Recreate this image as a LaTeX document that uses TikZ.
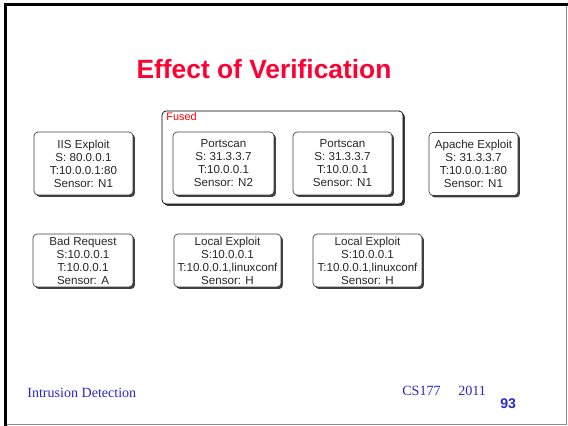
\documentclass[tikz,border=0pt]{standalone}
\usepackage{fontspec}
\setmainfont{Liberation Sans}
\newfontfamily\footfont{Liberation Serif}
\usetikzlibrary{shadows}
\definecolor{titlered}{RGB}{255,0,51}
\definecolor{footblue}{RGB}{40,40,200}
\tikzset{
  alert/.style={
    draw=black!75,
    fill=white,
    rounded corners=0.08cm,
    drop shadow={shadow xshift=0.04cm, shadow yshift=-0.04cm, fill=black!75, opacity=1},
    align=center,
    inner sep=0pt,
    text=black!85,
    font=\fontsize{6.6}{7.4}\selectfont
  },
  fusedbox/.style={
    alert,
    draw=black,
    minimum width=4.82cm,
    minimum height=1.86cm
  },
  tallalert/.style={
    alert,
    minimum height=1.26cm
  },
  flatalert/.style={
    alert,
    minimum height=1.06cm
  }
}

\begin{document}
\begin{tikzpicture}[x=0.02cm,y=-0.02cm]
  \useasboundingbox (0,0) rectangle (568,426);
  % slide frame
  \draw[black!45, line width=0.5pt] (566.5,4) -- (566.5,424.5) -- (6,424.5);
  \draw[black, line width=0.06cm] (5.5,426) -- (5.5,4.5) -- (568,4.5);

  \node[text=titlered, font=\fontsize{15}{18}\bfseries\selectfont, anchor=base] (title) at (264,78) {Effect of Verification};

  % fused pair
  \node[fusedbox] (fused) at (282.5,157.5) {};
  \node[text=red, font=\fontsize{6.2}{7}\selectfont, anchor=base west, inner sep=0pt] (fusedlbl) at (166,120.5) {Fused};

  % top row
  \node[tallalert, minimum width=1.98cm] (iis) at (83.5,163.5) {IIS Exploit\\S: 80.0.0.1\\T:10.0.0.1:80\\Sensor: N1};
  \node[tallalert, minimum width=2.02cm] (scanB) at (223.5,163.5) {Portscan\\S: 31.3.3.7\\T:10.0.0.1\\Sensor: N2};
  \node[tallalert, minimum width=1.98cm] (scanA) at (342.5,163.5) {Portscan\\S: 31.3.3.7\\T:10.0.0.1\\Sensor: N1};
  \node[tallalert, minimum width=1.78cm] (apache) at (473.5,164) {Apache Exploit\\S: 31.3.3.7\\T:10.0.0.1:80\\Sensor: N1};

  % bottom row
  \node[flatalert, minimum width=2.0cm] (bad) at (83,260.5) {Bad Request\\S:10.0.0.1\\T:10.0.0.1\\Sensor: A};
  \node[flatalert, minimum width=2.14cm] (localA) at (227.5,260.5) {Local Exploit\\S:10.0.0.1\\T:10.0.0.1,linuxconf\\Sensor: H};
  \node[flatalert, minimum width=2.18cm] (localB) at (367.5,260.5) {Local Exploit\\S:10.0.0.1\\T:10.0.0.1,linuxconf\\Sensor: H};

  % footer
  \node[text=footblue, font=\footfont\fontsize{8}{9}\selectfont, anchor=base west, inner sep=0pt] (course) at (27,397) {Intrusion Detection};
  \node[text=footblue, font=\footfont\fontsize{8}{9}\selectfont, anchor=base west, inner sep=0pt] (cs) at (402,395) {CS177};
  \node[text=footblue, font=\footfont\fontsize{8}{9}\selectfont, anchor=base west, inner sep=0pt] (year) at (458,395) {2011};
  \node[text=footblue, font=\fontsize{8}{9}\bfseries\selectfont, anchor=base west, inner sep=0pt] (page) at (500,408) {93};
\end{tikzpicture}
\end{document}
